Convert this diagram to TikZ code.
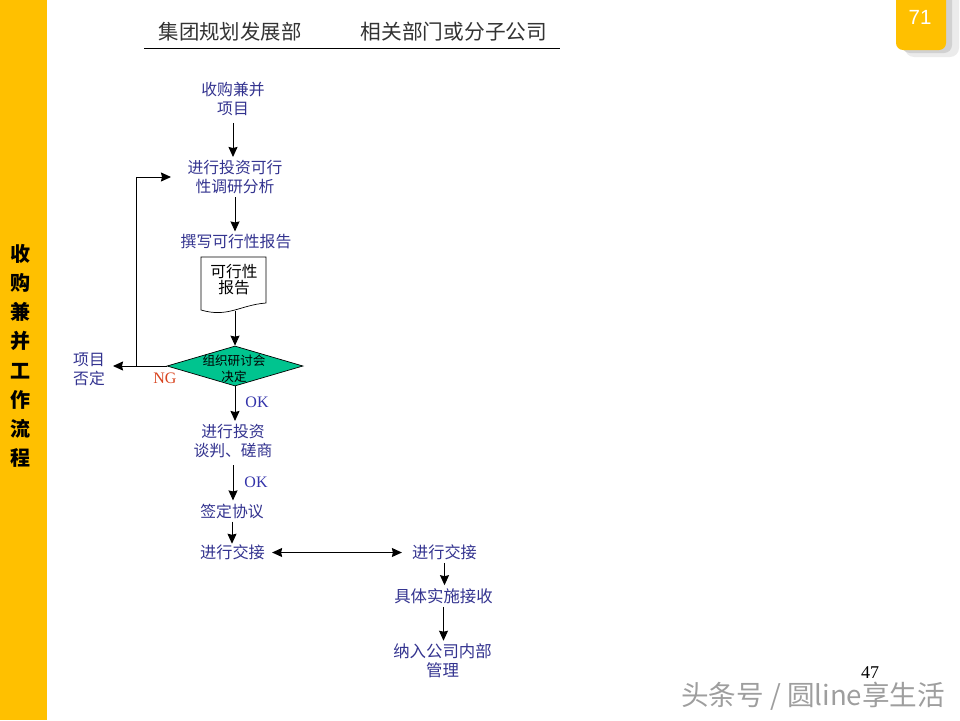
\documentclass[tikz,border=0pt]{standalone}
\usepackage{fontspec}
\setmainfont{Liberation Serif}
\setsansfont{Liberation Sans}
\newfontfamily\cjk{Noto Sans CJK SC}
\usetikzlibrary{arrows.meta,shapes.geometric}
\definecolor{barcol}{HTML}{FFC000}
\definecolor{stepcol}{HTML}{33338F}
\definecolor{headcol}{HTML}{333333}
\definecolor{gemcol}{HTML}{00C48F}
\definecolor{ngcol}{HTML}{D8431E}
\definecolor{okcol}{HTML}{3333AA}
\tikzset{
    flow/.style={line width=1pt,-{Stealth[length=10pt,width=9pt,inset=1pt]}},
    flowboth/.style={line width=1pt,{Stealth[length=10pt,width=9pt,inset=1pt]}-{Stealth[length=10pt,width=9pt,inset=1pt]}},
    stepnode/.style={align=center,text=stepcol,inner sep=3pt,font=\cjk\fontsize{15.8}{19}\selectfont},
    widenode/.style={stepnode,font=\cjk\fontsize{16.4}{19}\selectfont},
    headnode/.style={text=headcol,inner sep=0pt,font=\cjk\fontsize{20.4}{24}\selectfont},
    sidenode/.style={inner sep=0pt,font=\cjk\bfseries\fontsize{20}{24}\selectfont},
    oknode/.style={text=okcol,inner sep=0pt,font=\fontsize{16}{18}\selectfont}
}
\begin{document}
\begin{tikzpicture}[x=1pt,y=-1pt]
    \useasboundingbox (0,0) rectangle (960,720);

    % side bar and page tab
    \fill[barcol] (0,0) rectangle (47,720);
    \fill[black!8,rounded corners=9pt] (905,-10) rectangle (959,57);
    \fill[black!18,rounded corners=8pt] (902,-10) rectangle (952,53);
    \fill[barcol,rounded corners=7pt] (896,-10) rectangle (946,50);
    \node[text=white,inner sep=0pt,font=\sffamily\fontsize{20.5}{24}\selectfont] (tabno) at (920,17) {71};
    \foreach \y/\t in {254/收,283/购,312/兼,341/并,371/工,400/作,429/流,458/程}
        \node[sidenode] (side\y) at (20,\y) {\t};

    % header
    \node[headnode] (groupdept) at (230,32) {集团规划发展部};
    \node[headnode,font=\cjk\fontsize{20.7}{24}\selectfont] (subdept) at (454,32) {相关部门或分子公司};
    \coordinate (ruleL) at (144,48);
    \coordinate (ruleR) at (560,48);
    \draw[line width=0.9pt] (ruleL) -- (ruleR);

    % left column
    \node[stepnode] (start) at (233,99) {收购兼并\\项目};
    \node[stepnode] (study) at (235,177) {进行投资可行\\性调研分析};
    \node[stepnode] (write) at (236,242) {撰写可行性报告};
    \node[inner sep=0pt,minimum width=65pt,minimum height=57pt] (report) at (233.5,285.5) {};
    \draw[line width=0.7pt,fill=white] (201,310) -- (201,257) -- (266,257) -- (266,303)
        .. controls (240,305) and (228,318) .. (201,310) -- cycle;
    \node[align=center,inner sep=0pt,font=\cjk\fontsize{15.7}{16}\selectfont] (reporttxt) at (234,280) {可行性\\报告};
    \node[diamond,aspect=3.4,draw=black,line width=0.7pt,fill=gemcol,inner sep=0pt,minimum width=136pt,minimum height=40pt] (meet) at (235,366) {};
    \node[align=center,inner sep=0pt,font=\cjk\fontsize{12.6}{16}\selectfont] (meettxt) at (234,369) {组织研讨会\\决定};
    \node[stepnode] (reject) at (89,369) {项目\\否定};
    \node[stepnode] (talk) at (233,441) {进行投资\\谈判、磋商};
    \node[stepnode] (sign) at (232,511) {签定协议};
    \node[stepnode,font=\cjk\fontsize{16.2}{19}\selectfont] (handA) at (232.5,552.5) {进行交接};

    % right column
    \node[stepnode,font=\cjk\fontsize{16.2}{19}\selectfont] (handB) at (444.5,552) {进行交接};
    \node[widenode] (apply) at (443.5,596) {具体实施接收};
    \node[widenode] (manage) at (442.5,661) {纳入公司内部\\管理};

    \draw[flow,shorten <=4pt] (start.south) -- (start.south |- study.north);
    \draw[flow] (study.south) -- (study.south |- write.north);
    \draw[flow,shorten <=-3pt] (report.south -| meet.north) -- (meet.north);
    \draw[flow,shorten >=5pt] (meet.west) -- (meet.west -| reject.east);
    \coordinate (loopS) at (136,366);
    \coordinate (loopE) at (171,177);
    \draw[flow] (loopS) |- (loopE);
    \draw[flow] (meet.south) -- (meet.south |- talk.north);
    \draw[flow,shorten <=4pt] (talk.south) -- (talk.south |- sign.north);
    \draw[flow,shorten >=-2pt] (sign.south) -- (sign.south |- handA.north);
    \draw[flowboth,shorten <=4pt,shorten >=7pt] (handA.east) -- (handA.east -| handB.west);
    \draw[flow] (handB.south) -- (handB.south |- apply.north);
    \draw[flow] (apply.south) -- (apply.south |- manage.north);

    % labels
    \node[text=ngcol,inner sep=0pt,font=\fontsize{16}{18}\selectfont] (nglab) at (165,378) {NG};
    \node[oknode] (oklabA) at (257,402.5) {OK};
    \node[oknode] (oklabB) at (256,482.5) {OK};
    \node[inner sep=0pt,font=\fontsize{18}{20}\selectfont] (pageno) at (870,673) {47};
    \node[text=black!38,inner sep=0pt,font=\cjk\fontsize{27.6}{30}\selectfont] (mark) at (813,696) {头条号 / 圆line享生活};
\end{tikzpicture}
\end{document}
